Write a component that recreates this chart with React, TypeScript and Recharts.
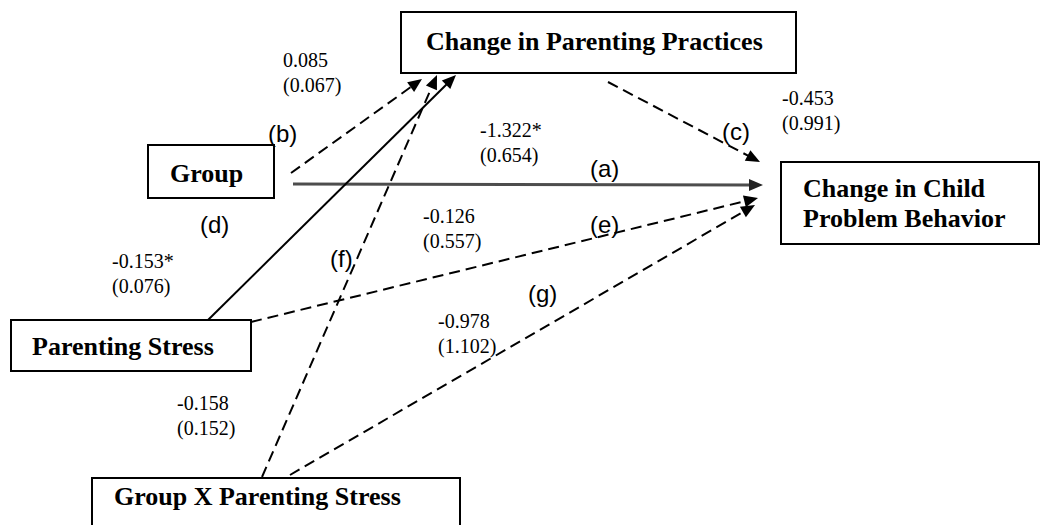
import React from 'react'
import {
  ScatterChart, Scatter, XAxis, YAxis, ReferenceArea, ReferenceLine,
} from 'recharts'

// ─── diagram data (canvas units: x 0..1042, y 0..525 from the top) ───

const nodeLines = [
  ['Change in Parenting Practices'],
  ['Group'],
  ['Change in Child', 'Problem Behavior'],
  ['Parenting Stress'],
  ['Group X Parenting Stress'],
]
const nodeLeft   = [401, 148, 781, 11, 92]
const nodeRight  = [796, 274, 1039, 251, 460]
const nodeTop    = [12, 145, 162, 320, 478]
const nodeBottom = [73, 198, 244, 371, 545]
const nodeTextX  = [426, 170, 803, 32, 114]
const nodeTextY  = [50, 182, 197, 355, 505]

const pathLetters = ['(a)', '(b)', '(c)', '(d)', '(e)', '(f)', '(g)']
const estimates   = ['-1.322*', '0.085', '-0.453', '-0.153*', '-0.126', '-0.158', '-0.978']
const stdErrors   = ['(0.654)', '(0.067)', '(0.991)', '(0.076)', '(0.557)', '(0.152)', '(1.102)']
const pathFrom = [[293, 184], [291, 173], [608, 82], [208, 320], [251, 322], [262, 477], [290, 475]]
const pathTo   = [[763, 185], [422, 79], [760, 162], [456, 75], [758, 198], [437, 75], [755, 205]]
const letterPos   = [[590, 177], [268, 142], [722, 140], [200, 233], [590, 233], [330, 267], [528, 302]]
const estimatePos = [[480, 137], [283, 67], [782, 105], [112, 268], [423, 223], [177, 410], [438, 328]]

// ─── helpers ──────────────────────────────────────────────────────────

const SERIF = '"Liberation Serif", "Times New Roman", serif'
const SANS  = '"Liberation Sans", Arial, sans-serif'
const HEAD_LEN  = 14
const HEAD_HALF = 6

function Arrow(props: any) {
  const { x1, y1, x2, y2, stroke, strokeWidth, strokeDasharray, headColor } = props
  const dx = x2 - x1
  const dy = y2 - y1
  const len = Math.hypot(dx, dy) || 1
  const ux = dx / len
  const uy = dy / len
  const bx = x2 - ux * HEAD_LEN
  const by = y2 - uy * HEAD_LEN
  const px = -uy * HEAD_HALF
  const py = ux * HEAD_HALF
  return (
    <g>
      <line x1={x1} y1={y1} x2={bx + ux * 2} y2={by + uy * 2}
        stroke={stroke} strokeWidth={strokeWidth} strokeDasharray={strokeDasharray} />
      <polygon points={`${x2},${y2} ${bx + px},${by + py} ${bx - px},${by - py}`} fill={headColor} />
    </g>
  )
}

function TextMark(props: any) {
  const { cx, cy, payload } = props
  const lines: string[] = payload.lines
  return (
    <text x={cx} y={cy} fontFamily={payload.font} fontSize={payload.size}
      fontWeight={payload.bold ? 700 : 400} fill="#000">
      {lines.map((l, i) => (
        <tspan key={i} x={cx} dy={i === 0 ? 0 : payload.lead}>{l}</tspan>
      ))}
    </text>
  )
}

const nodeText = nodeLines.map((lines, i) => ({
  x: nodeTextX[i], y: nodeTextY[i], lines, font: SERIF, size: 26, bold: true, lead: 30,
}))
const estimateText = estimates.map((e, i) => ({
  x: estimatePos[i][0], y: estimatePos[i][1], lines: [e, stdErrors[i]], font: SERIF, size: 20, bold: false, lead: 25,
}))
const letterText = pathLetters.map((l, i) => ({
  x: letterPos[i][0], y: letterPos[i][1], lines: [l], font: SANS, size: 24, bold: false, lead: 0,
}))

export default function App() {
  return (
    <div style={{ position: 'absolute', left: 0, top: 0, width: 1042, height: 525, background: '#fff' }}>
      <ScatterChart width={1042} height={525} margin={{ top: 0, right: 0, bottom: 0, left: 0 }}>
        <XAxis type="number" dataKey="x" domain={[0, 1042]} hide />
        <YAxis type="number" dataKey="y" domain={[0, 525]} reversed hide />
        {nodeLines.map((_, i) => (
          <ReferenceArea
            key={`box-${i}`}
            x1={nodeLeft[i]} x2={nodeRight[i]} y1={nodeTop[i]} y2={nodeBottom[i]}
            ifOverflow="visible"
            fill="#fff" fillOpacity={1} stroke="#000" strokeWidth={2}
          />
        ))}
        {pathLetters.map((_, i) => {
          const significant = estimates[i].endsWith('*')
          const direct = i === 0
          return (
            <ReferenceLine
              key={`path-${i}`}
              segment={[{ x: pathFrom[i][0], y: pathFrom[i][1] }, { x: pathTo[i][0], y: pathTo[i][1] }]}
              ifOverflow="visible"
              stroke={direct ? '#4d4d4d' : '#000'}
              strokeWidth={direct ? 3 : 2}
              strokeDasharray={significant ? undefined : '11 6'}
              shape={(p: any) => <Arrow {...p} headColor={direct ? '#222' : '#000'} />}
            />
          )
        })}
        <Scatter data={nodeText} shape={<TextMark />} isAnimationActive={false} />
        <Scatter data={estimateText} shape={<TextMark />} isAnimationActive={false} />
        <Scatter data={letterText} shape={<TextMark />} isAnimationActive={false} />
      </ScatterChart>
    </div>
  )
}
